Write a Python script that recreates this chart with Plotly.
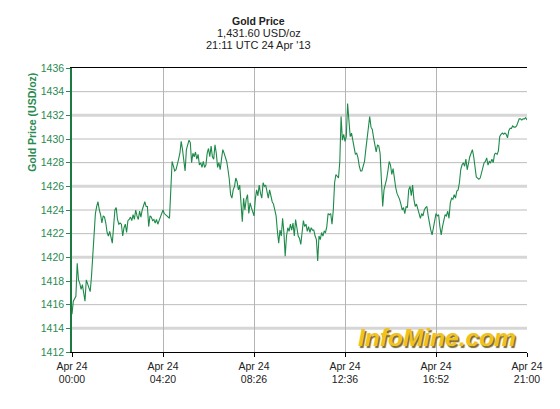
import plotly.graph_objects as go

# Gold price, 24 Apr 2013 (USD/oz) in time order
prices = [
    1415.2, 1416.3, 1416.5, 1416.7, 1419.5, 1418.1, 1417.8, 1417.3, 1417.7, 1416.8,
    1416.3, 1418.1, 1417.7, 1417.4, 1417.1, 1418.4, 1420.2, 1421.8, 1423.7, 1424.3,
    1424.7, 1424.0, 1423.6, 1422.9, 1423.5, 1423.4, 1422.9, 1422.1, 1421.8, 1422.2,
    1421.5, 1421.2, 1422.6, 1424.0, 1424.2, 1423.2, 1422.8, 1422.9, 1422.8, 1421.8,
    1422.5, 1422.8, 1422.1, 1423.1, 1423.2, 1423.4, 1423.1, 1423.6, 1423.2, 1424.0,
    1423.5, 1423.2, 1423.9, 1423.4, 1424.0, 1424.3, 1424.7, 1424.3, 1424.3, 1422.6,
    1423.5, 1423.4, 1423.1, 1423.2, 1422.9, 1423.2, 1422.8, 1423.1, 1423.4, 1423.6,
    1424.0, 1423.7,
    1423.6, 1423.5, 1423.4, 1423.3, 1425.7, 1428.1, 1427.7, 1427.3, 1427.4, 1428.0,
    1428.3, 1428.8, 1429.8, 1429.1, 1428.1, 1427.3, 1429.1, 1429.5, 1429.9, 1429.7,
    1428.0, 1428.8, 1428.5, 1428.9, 1428.3, 1428.7, 1427.8, 1428.0, 1427.6, 1428.1,
    1427.6, 1427.8, 1428.8, 1429.2, 1428.5, 1429.4, 1428.5, 1428.3, 1429.5, 1428.8,
    1427.6, 1428.0, 1427.4, 1428.3, 1429.1, 1428.8, 1428.5, 1428.1, 1427.4, 1426.6,
    1425.3, 1425.0, 1425.7, 1426.0, 1426.7, 1426.4, 1425.7, 1426.1, 1424.6, 1423.0,
    1425.0, 1424.0, 1424.9, 1425.3, 1423.7, 1424.6, 1424.2, 1423.9,
    1423.5, 1424.9, 1425.7, 1425.2, 1426.1, 1425.4, 1425.0, 1426.3, 1426.0, 1426.1,
    1425.4, 1425.0, 1425.7, 1425.2, 1424.7, 1424.5, 1423.9, 1423.5, 1422.2, 1421.2,
    1422.3, 1421.8, 1423.3, 1422.1, 1420.1, 1421.8, 1422.5, 1422.2, 1422.8, 1422.3,
    1422.9, 1421.8, 1423.2, 1422.3, 1421.8, 1421.6, 1421.1, 1422.1, 1423.1, 1422.6,
    1422.8, 1422.2, 1422.6, 1422.1, 1422.5, 1422.3, 1422.3, 1421.8, 1421.5, 1419.7,
    1421.8, 1421.5, 1422.1, 1421.8, 1422.2, 1422.1, 1422.6, 1423.7, 1423.6, 1423.7,
    1422.8, 1424.0, 1426.3, 1427.0, 1426.8,
    1426.7, 1428.1, 1431.9, 1429.9, 1430.4, 1429.8, 1430.2, 1433.0, 1431.9, 1430.2,
    1430.5, 1429.9, 1429.2, 1428.7, 1428.8, 1428.4, 1427.7, 1427.3, 1427.3, 1427.8,
    1428.1, 1429.1, 1430.2, 1431.4, 1431.9, 1431.0, 1430.8, 1430.1, 1429.5, 1428.9,
    1429.5, 1429.4, 1428.8, 1426.3, 1424.3, 1425.7, 1426.1, 1426.6, 1427.3, 1428.1,
    1427.8, 1427.0, 1427.5, 1426.6, 1425.9, 1425.4, 1425.2, 1424.9, 1424.5, 1424.0,
    1424.2, 1423.7, 1424.3, 1424.2, 1425.7, 1426.0, 1425.2, 1426.1, 1424.9, 1424.3,
    1424.5, 1424.0, 1423.7, 1423.3, 1423.7, 1423.5, 1424.0, 1424.2, 1424.3, 1423.5,
    1422.8, 1422.3, 1421.9, 1422.6, 1423.3, 1423.7,
    1423.5, 1423.6, 1422.6, 1421.9, 1422.6, 1423.0, 1423.6, 1423.5, 1423.9, 1423.3,
    1424.6, 1425.0, 1424.9, 1425.3, 1425.0, 1425.6, 1425.7, 1426.3, 1427.4, 1427.8,
    1428.0, 1427.7, 1428.3, 1427.4, 1428.1, 1428.5, 1428.8, 1429.1, 1428.5, 1427.8,
    1426.8, 1426.7, 1426.6, 1426.7, 1427.1, 1427.5, 1428.0, 1428.1, 1428.4, 1427.8,
    1428.1, 1428.0, 1428.3, 1428.0, 1428.7, 1428.8, 1428.7, 1429.0, 1430.2, 1430.4,
    1430.5, 1430.4, 1430.5, 1430.4, 1430.1, 1430.7, 1430.9, 1430.9, 1431.1, 1431.0,
    1431.0, 1431.1, 1431.4, 1431.7, 1431.7, 1431.6, 1431.7, 1431.7, 1431.8, 1431.6,
]

tick_dates = ["Apr 24", "Apr 24", "Apr 24", "Apr 24", "Apr 24", "Apr 24"]
tick_times = ["00:00", "04:20", "08:26", "12:36", "16:52", "21:00"]
y_ticks = list(range(1412, 1437, 2))
y_bold_grid = [1414, 1420, 1426, 1432]

GREEN = "#1e8a4a"
LABEL_GREEN = "#2a8a4f"
FONT = "Liberation Sans, Arial, sans-serif"

n = len(prices)
x = list(range(n))
tick_pos = [i * (n - 1) / 5 for i in range(6)]
tick_text = [f"{d}<br>{t}" for d, t in zip(tick_dates, tick_times)]

fig = go.Figure(go.Scatter(
    x=x, y=prices, mode="lines",
    line=dict(color=GREEN, width=1.1),
    hoverinfo="y",
))

# horizontal grid, every 6th line lighter and wider
for v in y_ticks[1:-1]:
    heavy = v in y_bold_grid
    fig.add_shape(
        type="line", xref="paper", yref="y", x0=0, x1=1, y0=v, y1=v,
        line=dict(color="#d6d6d6" if heavy else "#bcbcbc", width=3 if heavy else 1),
        layer="below",
    )

# page body has an 8px margin, so the figure is 8px smaller each way
fig.update_layout(
    width=552, height=401,
    margin=dict(l=64, r=33, t=60, b=57),
    paper_bgcolor="white", plot_bgcolor="white",
    showlegend=False,
    font=dict(family=FONT, size=10.5, color="#222"),
)

fig.update_xaxes(
    range=[0, n - 1],
    tickvals=tick_pos, ticktext=tick_text,
    ticks="outside", ticklen=4, tickcolor="#000",
    showgrid=True, gridcolor="#b4b4b4", gridwidth=1,
    showline=True, linecolor="#000", linewidth=1, mirror=True,
    zeroline=False,
    tickfont=dict(size=10.5, color="#222"),
)
fig.update_yaxes(
    range=[1412, 1436],
    tickvals=y_ticks,
    ticks="outside", ticklen=4, tickcolor=LABEL_GREEN,
    showgrid=False, zeroline=False,
    showline=True, linecolor="#1c7a40", linewidth=1.5,
    tickfont=dict(size=10.5, color=LABEL_GREEN),
)

# header
header = [("<b>Gold Price</b>", 10.5, 47), ("1,431.60 USD/oz", 11, 35), ("21:11 UTC 24 Apr '13", 11, 23)]
for text, size, shift in header:
    fig.add_annotation(
        xref="paper", yref="paper", x=0.41, y=1, yshift=shift, showarrow=False,
        xanchor="center", yanchor="middle",
        text=text, font=dict(size=size, color="#222"),
    )

# y-axis title, sits high next to the axis
fig.add_annotation(
    xref="paper", yref="paper", x=0, xshift=-40, y=0.807, showarrow=False,
    xanchor="center", yanchor="middle",
    textangle=-90, text="<b>Gold Price (USD/oz)</b>",
    font=dict(size=10.5, color=LABEL_GREEN),
)

# watermark
fig.add_annotation(
    xref="paper", yref="paper", x=0.802, y=0.05,
    xanchor="center", yanchor="middle",
    showarrow=False, text="InfoMine.com",
    font=dict(family="Liberation Sans, Arial", size=24.5, color="#f2c21c",
              weight="bold", style="italic", shadow="1.5px 1.5px 1px #7a6a30"),
)

fig.write_html("out.html")
